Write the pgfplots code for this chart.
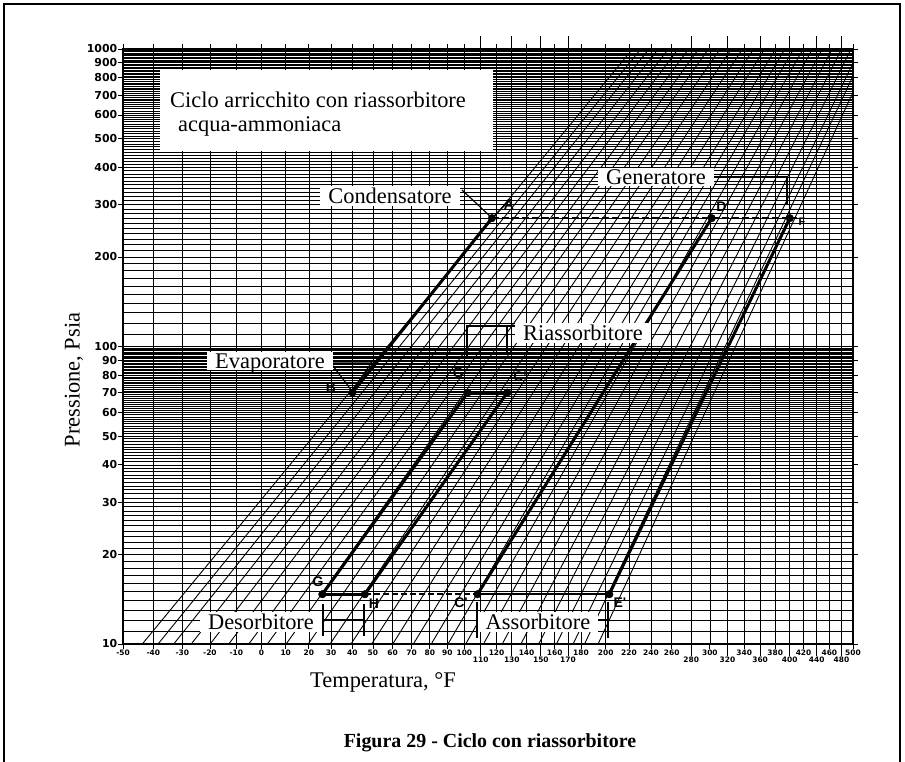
\documentclass[border=0pt]{standalone}
\usepackage{fontspec}
\setmainfont{Liberation Serif}
\newfontfamily\tickfont{DejaVu Sans}
\newfontfamily\ptfont{Liberation Sans}
\usepackage{pgfplots}
\pgfplotsset{compat=1.18}
\begin{document}
\begin{tikzpicture}
\useasboundingbox (0,0) rectangle (905bp,762bp);
\fill[white] (0,0) rectangle (905bp,762bp);
\begin{axis}[
  at={(123bp,118bp)}, anchor=south west,
  width=730bp, height=595bp, scale only axis,
  xmin=-50, xmax=500, ymin=10, ymax=1000, ymode=log,
  x coord trafo/.code={\pgfmathparse{-1000/(#1+459.67)}},
  x coord inv trafo/.code={\pgfmathparse{-1000/#1-459.67}},
  xtick={-50,-40,-30,-20,-10,0,10,20,30,40,50,60,70,80,90,100,120,140,160,180,200,220,240,260,300,340,380,420,460,500},
  xticklabels={-50,-40,-30,-20,-10,0,10,20,30,40,50,60,70,80,90,100,120,140,160,180,200,220,240,260,300,340,380,420,460,500},
  extra x ticks={110,130,150,170,280,320,360,400,440,480},
  extra x tick labels={110,130,150,170,280,320,360,400,440,480},
  extra x tick style={major tick length=12.5bp, grid=major},
  ytick={10,20,30,40,50,60,70,80,90,100,200,300,400,500,600,700,800,900,1000},
  yticklabels={10,20,30,40,50,60,70,80,90,100,200,300,400,500,600,700,800,900,1000},
  minor ytick={11,12,13,14,15,16,17,18,19,21,22,23,24,25,26,27,28,29,31,32,33,34,35,36,37,38,39,41,42,43,44,45,46,47,48,49,51,52,53,54,55,56,57,58,59,61,62,63,64,65,66,67,68,69,71,72,73,74,75,76,77,78,79,81,82,83,84,85,86,87,88,89,91,92,93,94,95,96,97,98,99,110,120,130,140,150,160,170,180,190,210,220,230,240,250,260,270,280,290,310,320,330,340,350,360,370,380,390,410,420,430,440,450,460,470,480,490,510,520,530,540,550,560,570,580,590,610,620,630,640,650,660,670,680,690,710,720,730,740,750,760,770,780,790,810,820,830,840,850,860,870,880,890,910,920,930,940,950,960,970,980,990},
  extra y ticks={100}, extra y tick labels={},
  extra y tick style={grid=major, major grid style={black, line width=1.8bp}},
  grid=both,
  major grid style={black, line width=0.7bp},
  minor grid style={black, line width=0.5bp},
  tick align=outside,
  major tick length=5bp, minor tick length=0pt,
  tick style={black, line width=0.8bp},
  axis line style={line width=1.4bp},
  xticklabel style={font=\fontsize{7.5}{7.5}\tickfont\bfseries, inner sep=0.5bp},
  yticklabel style={font=\fontsize{11}{11}\tickfont\bfseries, inner sep=0.5bp},
]
% thin lines of constant concentration
\addplot[black, line width=0.9bp] coordinates {(-43.7,10) (223.1,1000)};
\addplot[black, line width=0.9bp] coordinates {(-38.4,10) (230.6,1000)};
\addplot[black, line width=0.9bp] coordinates {(-33.0,10) (238.2,1000)};
\addplot[black, line width=0.9bp] coordinates {(-26.8,10) (247.1,1000)};
\addplot[black, line width=0.9bp] coordinates {(-19.9,10) (256.7,1000)};
\addplot[black, line width=0.9bp] coordinates {(-12.9,10) (266.6,1000)};
\addplot[black, line width=0.9bp] coordinates {(-5.1,10) (277.2,1000)};
\addplot[black, line width=0.9bp] coordinates {(2.4,10) (287.7,1000)};
\addplot[black, line width=0.9bp] coordinates {(10.2,10) (298.4,1000)};
\addplot[black, line width=0.9bp] coordinates {(19.7,10) (311.4,1000)};
\addplot[black, line width=0.9bp] coordinates {(29.5,10) (324.7,1000)};
\addplot[black, line width=0.9bp] coordinates {(39.3,10) (338.0,1000)};
\addplot[black, line width=0.9bp] coordinates {(49.4,10) (351.7,1000)};
\addplot[black, line width=0.9bp] coordinates {(60.1,10) (365.8,1000)};
\addplot[black, line width=0.9bp] coordinates {(71.0,10) (380.4,1000)};
\addplot[black, line width=0.9bp] coordinates {(80.8,10) (393.2,1000)};
\addplot[black, line width=0.9bp] coordinates {(90.3,10) (405.6,1000)};
\addplot[black, line width=0.9bp] coordinates {(100.8,10) (419.4,1000)};
\addplot[black, line width=0.9bp] coordinates {(111.7,10) (433.4,1000)};
\addplot[black, line width=0.9bp] coordinates {(123.7,10) (448.8,1000)};
\addplot[black, line width=0.9bp] coordinates {(136.1,10) (464.6,1000)};
\addplot[black, line width=0.9bp] coordinates {(148.5,10) (480.3,1000)};
\addplot[black, line width=0.9bp] coordinates {(161.3,10) (496.5,1000)};
\addplot[black, line width=0.9bp] coordinates {(173.9,10) (512.1,1000)};
\addplot[black, line width=0.9bp] coordinates {(182.8,10) (523.1,1000)};
\addplot[black, line width=0.9bp] coordinates {(193.7,10) (536.6,1000)};
% cycle: thick solution lines
\addplot[black, line width=3bp] coordinates {(40,70) (117,270)};
\addplot[black, line width=3bp] coordinates {(26,14.7) (102,70)};
\addplot[black, line width=3bp] coordinates {(46,14.7) (127,70)};
\addplot[black, line width=3bp] coordinates {(108,14.7) (302,270)};
\addplot[black, line width=3bp] coordinates {(203,14.7) (400,270)};
% isobars of the cycle
\addplot[black, line width=1.5bp, dash pattern=on 7bp off 3bp] coordinates {(117,270) (410,270)};
\addplot[black, line width=1.5bp, dash pattern=on 6bp off 3bp] coordinates {(40,70) (102,70)};
\addplot[black, line width=3bp] coordinates {(102,70) (127,70)};
\addplot[black, line width=3bp] coordinates {(26,14.7) (46,14.7)};
\addplot[black, line width=1.5bp, dash pattern=on 6bp off 3bp] coordinates {(46,14.7) (108,14.7)};
\addplot[black, line width=1.6bp] coordinates {(108,14.7) (203,14.7)};
% state points
\addplot[only marks, mark=*, mark size=3.8bp, black] coordinates {(117,270) (302,270) (400,270) (40,70) (102,70) (127,70) (26,14.7) (46,14.7) (108,14.7) (203,14.7)};
\end{axis}
\begin{scope}[x=1bp, y=-1bp, shift={(0bp,762bp)}]
  % outer frame
  \draw[line width=1.5bp] (4,765) -- (4,4) -- (900,4) -- (900,765);
  % title box
  \fill[white] (160,70) rectangle (493,151);
  \node[anchor=base west, font=\fontsize{22.5}{24}\selectfont, inner sep=0pt] at (170,108) {Ciclo arricchito con riassorbitore};
  \node[anchor=base west, font=\fontsize{22.5}{24}\selectfont, inner sep=0pt] at (178,132) {acqua-ammoniaca};
  \tikzset{lbl/.style={fill=white, inner xsep=8bp, inner ysep=2bp, text depth=0pt, font=\fontsize{22.5}{24}\selectfont}}
  % brackets
  \draw[line width=1.2bp] (462,190) -- (492,218) -- (511,199);
  \draw[line width=1.2bp] (330,362) -- (352,391) -- (372,362) -- (330,362);
  \draw[line width=1.2bp] (705,177) -- (787,177) -- (787,205);
  \draw[line width=1.2bp] (520,326) -- (467,326) -- (467,356);
  \draw[line width=1.2bp] (507,326) -- (507,352);
  \draw[line width=1.2bp] (315,620) -- (364,620);
  \draw[line width=1.2bp] (323,604) -- (323,636);
  \draw[line width=1.2bp] (364,604) -- (364,636);
  \draw[line width=1.2bp] (477,602) -- (477,638);
  \draw[line width=1.2bp] (608,602) -- (608,638);
  \draw[line width=1.2bp] (477,620) -- (485,620);
  \draw[line width=1.2bp] (592,620) -- (608,620);
  % component labels
  \node[lbl] at (390,196) {Condensatore};
  \node[lbl] at (656,177) {Generatore};
  \node[lbl] at (270,361) {Evaporatore};
  \node[lbl] at (583,333) {Riassorbitore};
  \node[lbl] at (261,622) {Desorbitore};
  \node[lbl] at (538,622) {Assorbitore};
  % point labels
  \tikzset{pt/.style={font=\fontsize{14}{14}\ptfont\bfseries, inner sep=0pt}}
  \node[pt] at (509,205) {A};
  \node[pt] at (723,207) {D'};
  \node[pt, font=\fontsize{11}{11}\ptfont\bfseries] at (802,222) {F};
  \node[pt] at (331,388) {B};
  \node[pt] at (458,373) {C};
  \node[pt] at (520,377) {C'};
  \node[pt] at (318,582) {G};
  \node[pt] at (374,604) {H};
  \node[pt] at (461,603) {C'};
  \node[pt] at (620,603) {E'};
  % axis titles and caption
  \node[font=\fontsize{22.5}{24}\selectfont] at (383,682) {Temperatura, °F};
  \node[rotate=90, font=\fontsize{22.5}{24}\selectfont] at (74,380) {Pressione, Psia};
  \node[font=\fontsize{20}{22}\selectfont\bfseries] at (490,743) {Figura 29 - Ciclo con riassorbitore};
\end{scope}
\end{tikzpicture}
\end{document}
